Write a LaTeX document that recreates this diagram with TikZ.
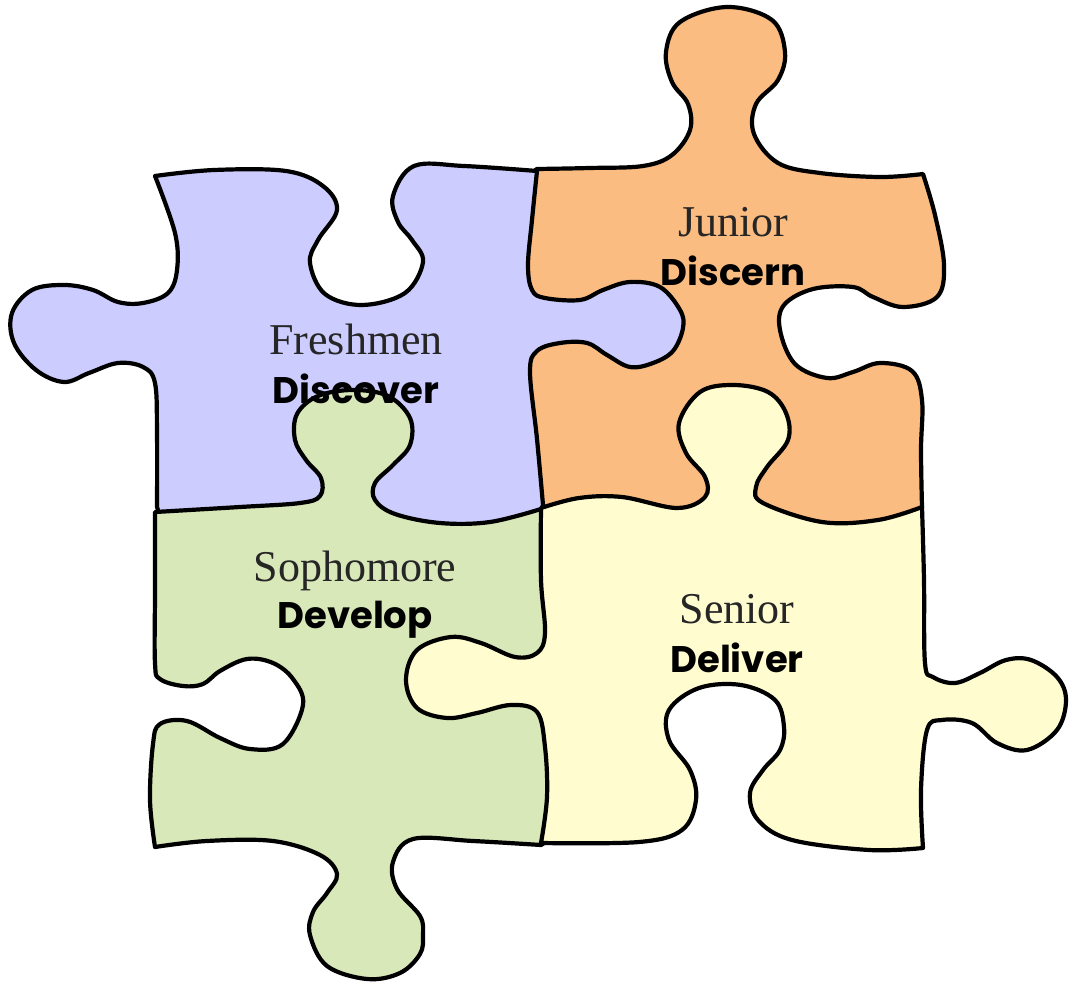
\documentclass[tikz,border=0pt]{standalone}
\usepackage{fontspec}
\setmainfont{Liberation Serif}
\newfontfamily\verbfont{Poppins}
\usetikzlibrary{positioning}
\definecolor{freshcol}{RGB}{204,204,255}
\definecolor{juniorcol}{RGB}{251,188,130}
\definecolor{sophcol}{RGB}{217,232,184}
\definecolor{seniorcol}{RGB}{255,252,208}
\tikzstyle{piece}=[
	draw=black,
	line width=4.2pt,
	line join=round]
\tikzstyle{year}=[
	font=\fontsize{44}{48}\selectfont,
	text=black!85,
	inner sep=0]
\tikzstyle{verb}=[
	font=\verbfont\bfseries\fontsize{37}{40}\selectfont,
	text=black,
	inner sep=0]
\begin{document}
\begin{tikzpicture}[x=1pt,y=-1pt]
	\useasboundingbox (0,0) rectangle (1069,982);
	\draw[piece,fill=juniorcol] plot[smooth,tension=.6] coordinates {(537,169) (590,168) (643,166) (672,155) (690,130) (688,104) (672,82) (666,52) (680,22) (727,7) (772,20) (785,52) (778,80) (756,104) (754,134) (778,163) (820,173) (880,177) (923,174)}
		-- plot[smooth,tension=.6] coordinates {(923,174) (935,215) (944,265) (937,297) (903,307) (873,297) (853,287) (813,289) (784,305) (780,330) (795,364) (827,378) (853,372) (880,363) (912,371) (922,400) (921,450) (922,507)}
		-- (900,535) -- (560,535) -- (515,500) -- (515,185) -- cycle;
	\draw[piece,fill=freshcol] plot[smooth,tension=.6] coordinates {(155,176) (214,170) (286,171) (323,186) (337,210) (318,240) (310,263) (325,294) (362,305) (405,293) (423,262) (412,240) (398,222) (393,196) (414,166) (464,166) (537,171)}
		-- plot[smooth,tension=.6] coordinates {(537,171) (532,220) (528,265) (532,290) (545,298) (580,300) (603,290) (630,282) (660,287) (680,310) (683,328) (673,351) (653,363) (630,367) (607,355) (587,343) (560,343) (537,351) (530,372) (537,439) (543,505)}
		-- (530,545) -- (170,545) -- (157,507)
		-- plot[smooth,tension=.6] coordinates {(157,507) (157,433) (155,383) (143,367) (118,363) (89,373) (64,382) (36,370) (14,343) (12,313) (32,290) (64,285) (93,290) (118,302) (143,303) (168,293) (177,270) (175,233) (155,176)}
		-- cycle;
	\draw[piece,fill=sophcol] plot[smooth,tension=.6] coordinates {(155,512) (240,507) (300,503) (320,496) (321,478) (306,460) (295,440) (297,414) (318,396) (353,390) (388,396) (410,418) (410,445) (393,465) (375,483) (375,500) (395,514) (440,523) (490,522) (541,509)}
		-- (565,525) -- (565,830) -- (541,845)
		-- plot[smooth,tension=.6] coordinates {(541,845) (473,841) (413,839) (393,862) (397,889) (420,916) (423,935) (420,954) (400,973) (367,979) (327,966) (310,935) (313,912) (327,893) (337,874) (320,855) (273,841) (207,841) (155,847)}
		-- plot[smooth,tension=.6] coordinates {(155,847) (150,800) (153,744) (160,724) (187,721) (220,738) (250,749) (283,744) (303,705) (293,679) (273,663) (247,659) (220,671) (203,684) (183,686) (160,679) (155,663) (155,590) (155,512)}
		-- cycle;
	\draw[piece,fill=seniorcol] plot[smooth,tension=.6] coordinates {(541,508) (579,498) (622,497) (677,508) (705,497) (705,477) (686,453) (679,423) (700,392) (733,385) (768,392) (786,413) (788,440) (767,467) (756,487) (763,503) (822,522) (878,520) (922,507)}
		-- plot[smooth,tension=.6] coordinates {(922,507) (924,580) (925,663) (933,677) (955,683) (980,673) (1006,660) (1031,660) (1057,677) (1066,700) (1057,730) (1027,750) (997,743) (972,723) (942,720) (927,730) (921,790) (923,848)}
		-- plot[smooth,tension=.6] coordinates {(923,848) (869,850) (792,840) (758,820) (750,793) (763,770) (780,750) (784,727) (775,700) (741,685) (699,688) (669,710) (669,740) (690,770) (696,800) (682,830) (639,842) (541,843)}
		-- plot[smooth,tension=.6] coordinates {(541,843) (547,797) (545,747) (537,712) (511,705) (477,713) (447,718) (417,708) (406,680) (417,650) (451,637) (481,643) (515,657) (537,653) (545,633) (541,580) (541,508)}
		-- cycle;
	\node[year,anchor=base]	(fresh)	at (356,354)	{Freshmen};
	\node[verb]	(discover)	[below=49pt of fresh.base,anchor=base]	{Discover};
	\node[year,anchor=base]	(junior)	at (733,236)	{Junior};
	\node[verb]	(discern)	[below=49pt of junior.base,anchor=base]	{Discern};
	\node[year,anchor=base]	(soph)	at (355,581)	{Sophomore};
	\node[verb]	(develop)	[below=47pt of soph.base,anchor=base]	{Develop};
	\node[year,anchor=base]	(senior)	at (737,623)	{Senior};
	\node[verb]	(deliver)	[below=49pt of senior.base,anchor=base]	{Deliver};
\end{tikzpicture}
\end{document}
